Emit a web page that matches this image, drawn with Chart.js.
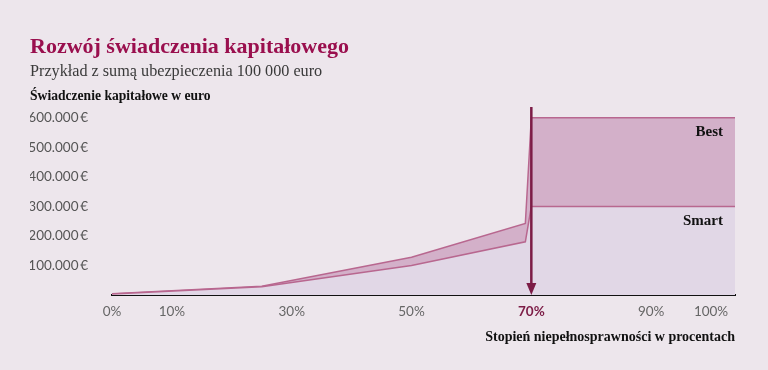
<!DOCTYPE html>
<html>
<head>
<meta charset="utf-8">
<script src="https://cdn.jsdelivr.net/npm/chart.js@4.4.1/dist/chart.umd.min.js"></script>
<style>
  html, body { margin: 0; padding: 0; background: #ede6ec; }
  #wrap { position: relative; width: 768px; height: 370px; overflow: hidden; background: #ede6ec; }
  #chart { position: absolute; left: 0; top: 0; }
  .t { position: absolute; left: 30px; white-space: nowrap; font-family: "Liberation Serif", serif; }
  #title { top: 33px; font-size: 22px; font-weight: bold; color: #9a0f4e; }
  #sub { top: 62px; font-size: 16.2px; color: #3a3a3a; }
  #ycap { top: 88px; font-size: 13.6px; font-weight: bold; color: #111; }
</style>
</head>
<body>
<div id="wrap">
  <canvas id="chart" width="768" height="370"></canvas>
  <div class="t" id="title">Rozwój świadczenia kapitałowego</div>
  <div class="t" id="sub">Przykład z sumą ubezpieczenia 100 000 euro</div>
  <div class="t" id="ycap">Świadczenie kapitałowe w euro</div>
</div>
<script>
// Data
const disability = [0, 25, 50, 69, 70, 104];            // % disability (x)
const smartValues = [3000, 28000, 100000, 180000, 300000, 300000];
const bestValues  = [4000, 30000, 128000, 242000, 600000, 600000];
const xTicks = [0, 10, 30, 50, 70, 90, 100];
const yTicks = [100000, 200000, 300000, 400000, 500000, 600000];
const highlightX = 70;
const seriesNames = ['Smart', 'Best'];
const xAxisTitle = 'Stopień niepełnosprawności w procentach';

const toPts = vals => disability.map((x, i) => ({ x: x, y: vals[i] }));
const fmtEuro = v => v.toLocaleString('de-DE') + '\u2009€';

const lineColor = '#b8678f';
const arrowColor = '#7c1c46';

const overlay = {
  id: 'overlay',
  afterDatasetsDraw(chart) {
    const { ctx, chartArea, scales } = chart;
    const x = scales.x.getPixelForValue(highlightX);
    const bottom = scales.y.getPixelForValue(0);
    ctx.save();
    // arrow
    ctx.strokeStyle = arrowColor;
    ctx.fillStyle = arrowColor;
    ctx.lineWidth = 2.5;
    ctx.beginPath();
    ctx.moveTo(x, chartArea.top + 1);
    ctx.lineTo(x, bottom - 8);
    ctx.stroke();
    ctx.beginPath();
    ctx.moveTo(x - 5, bottom - 12);
    ctx.lineTo(x + 5, bottom - 12);
    ctx.lineTo(x, bottom);
    ctx.closePath();
    ctx.fill();
    // series labels
    ctx.fillStyle = '#111';
    ctx.font = 'bold 15px "Liberation Serif", serif';
    ctx.textAlign = 'right';
    ctx.textBaseline = 'middle';
    const lx = chartArea.right - 12;
    ctx.fillText(seriesNames[1], lx, scales.y.getPixelForValue(552000));
    ctx.fillText(seriesNames[0], lx, scales.y.getPixelForValue(250000));
    ctx.restore();
  }
};

new Chart(document.getElementById('chart'), {
  type: 'line',
  data: {
    datasets: [
      {
        label: seriesNames[0],
        data: toPts(smartValues),
        borderColor: lineColor,
        borderWidth: 1.5,
        backgroundColor: '#e1d7e6',
        fill: 'origin',
        pointRadius: 0,
        tension: 0
      },
      {
        label: seriesNames[1],
        data: toPts(bestValues),
        borderColor: lineColor,
        borderWidth: 1.5,
        backgroundColor: '#d3b0c9',
        fill: '-1',
        pointRadius: 0,
        tension: 0
      }
    ]
  },
  options: {
    responsive: false,
    animation: false,
    events: [],
    layout: { padding: { left: 30, right: 33, top: 106, bottom: 0 } },
    plugins: { legend: { display: false }, tooltip: { enabled: false }, title: { display: false } },
    scales: {
      x: {
        type: 'linear',
        min: 0,
        max: 104,
        afterBuildTicks: s => { s.ticks = xTicks.map(v => ({ value: v })); },
        afterFit: s => { s.height = 75; },
        grid: { display: false, drawTicks: false },
        border: { display: true, color: '#111', width: 2 },
        ticks: {
          padding: 9,
          maxRotation: 0,
          autoSkip: false,
          callback: v => v + '%',
          color: ctx => ctx.tick && ctx.tick.value === highlightX ? arrowColor : '#666',
          font: ctx => ({
            family: 'Lato, "Open Sans", sans-serif',
            size: 13.5,
            weight: ctx.tick && ctx.tick.value === highlightX ? 'bold' : 'normal'
          })
        },
        title: {
          display: true,
          text: xAxisTitle,
          align: 'end',
          color: '#111',
          font: { family: '"Liberation Serif", serif', size: 14, weight: 'bold' },
          padding: { top: 0, bottom: 24 }
        }
      },
      y: {
        min: 0,
        max: 640000,
        afterBuildTicks: s => { s.ticks = yTicks.map(v => ({ value: v })); },
        afterFit: s => { s.width = 82; },
        grid: { display: false, drawTicks: false },
        border: { display: false },
        ticks: {
          padding: 24,
          callback: v => fmtEuro(v),
          color: '#555',
          font: { family: 'Lato, "Open Sans", sans-serif', size: 13.5 }
        }
      }
    }
  },
  plugins: [overlay]
});
</script>
</body>
</html>
